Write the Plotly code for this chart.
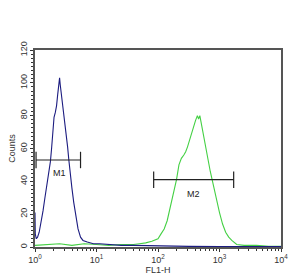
import math
import plotly.graph_objects as go

# Blue histogram (control): FL1-H channel values and counts
blue_x = [1.0, 1.01, 1.05, 1.1, 1.17, 1.26, 1.35, 1.45, 1.55, 1.66, 1.78, 1.86, 1.95, 2.04, 2.14,
          2.24, 2.34, 2.45, 2.51, 2.57, 2.69, 2.82, 2.95, 3.09, 3.24, 3.39, 3.55, 3.72, 3.98,
          4.27, 4.57, 5.01, 5.5, 6.03, 7.08, 8.91, 11.2, 15.8, 25.1, 39.8, 63.1, 100, 316, 1000, 10000]
blue_y = [21, 8, 5, 6, 9, 15, 22, 30, 37, 45, 52, 60, 68, 79, 82,
          86, 93, 98, 103, 99, 93, 88, 81, 75, 68, 61, 53, 45, 36,
          27, 19, 11, 6, 4, 3, 2, 2, 1.5, 1, 1, 0.8, 0.5, 0.4, 0.2, 0.2]

# Green histogram (antibody stained)
green_x = [1.0, 1.58, 2.51, 3.98, 6.31, 10.0, 15.8, 25.1, 39.8, 50.1, 63.1, 79.4, 100, 112, 126,
           141, 158, 178, 200, 219, 240, 263, 282, 302, 331, 355, 380, 407, 437, 457, 479, 501,
           525, 550, 603, 661, 708, 759, 832, 912, 1000, 1122, 1259, 1413, 1585, 1905, 2512, 3981, 6310, 10000]
green_y = [1, 1.5, 2, 1, 2, 1.5, 1, 1.5, 1.5, 2, 2.5, 3.5, 5, 8, 11,
           16, 24, 33, 41, 50, 54, 56, 58, 61, 66, 71, 74, 77, 80, 78, 80, 76,
           72, 66, 59, 52, 46, 41, 34, 27, 21, 14, 9, 6, 4, 1.5, 1, 1, 0.5, 0.5]

# Marker gates
gate_names = ["M1", "M2"]
gate_lo = [1.04, 85]
gate_hi = [5.5, 1700]
gate_level = [53, 41]
gate_label_x = [2.48, 372]
gate_label_y = [45, 32]

fig = go.Figure()
fig.add_trace(go.Scatter(x=green_x, y=green_y, mode="lines",
                         line=dict(color="#44d044", width=1.1), showlegend=False))
fig.add_trace(go.Scatter(x=blue_x, y=blue_y, mode="lines",
                         line=dict(color="#1c1c80", width=1.1), showlegend=False))

cap = 5
for name, lo, hi, lv, lx, ly in zip(gate_names, gate_lo, gate_hi, gate_level, gate_label_x, gate_label_y):
    fig.add_trace(go.Scatter(x=[lo, hi, None, lo, lo, None, hi, hi],
                             y=[lv, lv, None, lv - cap, lv + cap, None, lv - cap, lv + cap],
                             mode="lines", line=dict(color="#222222", width=1.2), showlegend=False))
    fig.add_annotation(x=math.log10(lx), y=ly, text=name, showarrow=False,
                       font=dict(size=9, color="#222222", family="Liberation Sans"))

minor_vals = [k * 10 ** d for d in range(4) for k in range(2, 10)]
fig.update_layout(
    width=296, height=275,
    margin=dict(l=35, r=15, t=50, b=28),
    paper_bgcolor="white", plot_bgcolor="white",
    font=dict(family="Liberation Sans", size=9, color="#333333"),
    xaxis=dict(type="log", range=[0, 4], showgrid=False, zeroline=False, automargin=False,
               showline=True, linecolor="#555555", linewidth=1.5, mirror=True,
               tickmode="array", tickvals=[1, 10, 100, 1000, 10000],
               ticktext=["10<sup>0</sup>", "10<sup>1</sup>", "10<sup>2</sup>", "10<sup>3</sup>", "10<sup>4</sup>"],
               ticks="outside", ticklen=3, tickcolor="#333333",
               minor=dict(ticks="outside", ticklen=2, tickvals=minor_vals, tickcolor="#333333"),
               title=dict(text="FL1-H", standoff=0, font=dict(size=9))),
    yaxis=dict(range=[0, 120], showgrid=False, zeroline=False, automargin=False,
               showline=True, linecolor="#555555", linewidth=1.5, mirror=True,
               tickvals=[0, 20, 40, 60, 80, 100, 120], tickangle=-90,
               ticks="outside", ticklen=3, tickcolor="#333333",
               minor=dict(ticks="outside", ticklen=2, dtick=2.5, tickcolor="#333333"),
               title=dict(text="Counts", standoff=2, font=dict(size=9))),
)
fig.write_html("out.html")
